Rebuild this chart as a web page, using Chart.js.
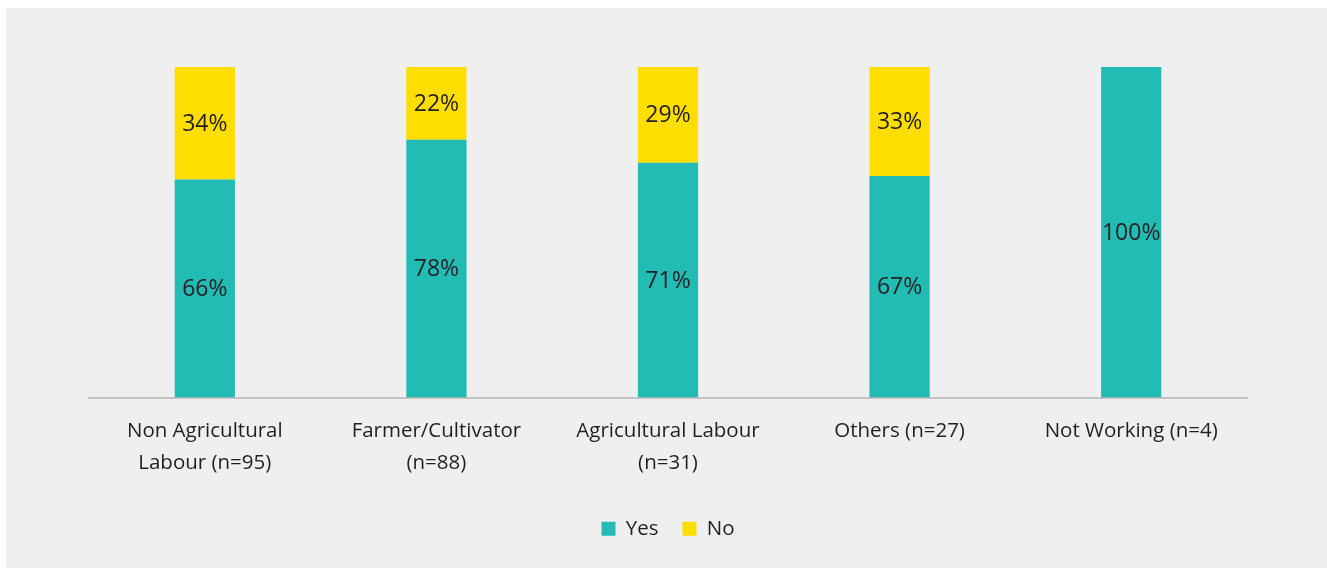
<!DOCTYPE html>
<html>
<head>
<meta charset="utf-8">
<script src="https://cdn.jsdelivr.net/npm/chart.js@4.4.1/dist/chart.umd.min.js"></script>
<style>
  html, body { margin: 0; padding: 0; background: #ffffff; }
  #wrap {
    position: absolute;
    left: 6px;
    top: 8px;
    width: 1321px;
    height: 560px;
    background: #eeefee;
  }
</style>
</head>
<body>
<div id="wrap"><canvas id="chart"></canvas></div>
<script>
// Data
const categories = [
  ["Non Agricultural", "Labour (n=95)"],
  ["Farmer/Cultivator", "(n=88)"],
  ["Agricultural Labour", "(n=31)"],
  "Others (n=27)",
  "Not Working (n=4)",
];
const yesValues = [66, 78, 71, 67, 100];
const noValues = [34, 22, 29, 33, 0];

const TEXT = "#231f20";
const FONT = "'Open Sans', sans-serif";

// Percent label in the middle of each segment
const segmentLabels = {
  id: "segmentLabels",
  afterDatasetsDraw(chart) {
    const ctx = chart.ctx;
    ctx.save();
    ctx.font = "23px " + FONT;
    ctx.fillStyle = TEXT;
    ctx.textAlign = "center";
    ctx.textBaseline = "middle";
    chart.data.datasets.forEach((ds, i) => {
      const meta = chart.getDatasetMeta(i);
      meta.data.forEach((bar, j) => {
        const v = ds.data[j];
        if (!v) return;
        const p = bar.getProps(["x", "y", "base"], true);
        ctx.fillText(v + "%", p.x, (p.y + p.base) / 2 + 1);
      });
    });
    ctx.restore();
  },
};

const canvas = document.getElementById("chart");
new Chart(canvas.getContext("2d"), {
  type: "bar",
  data: {
    labels: categories,
    datasets: [
      {
        label: "Yes",
        data: yesValues,
        backgroundColor: "#23bcb5",
        barPercentage: 1,
        categoryPercentage: 0.26,
      },
      {
        label: "No",
        data: noValues,
        backgroundColor: "#fedd00",
        barPercentage: 1,
        categoryPercentage: 0.26,
      },
    ],
  },
  options: {
    responsive: true,
    maintainAspectRatio: false,
    animation: false,
    layout: {
      padding: { left: 83, right: 80, top: 59, bottom: 19 },
    },
    scales: {
      x: {
        stacked: true,
        grid: { display: false },
        border: { display: true, color: "#c2c2c2", width: 2 },
        ticks: {
          color: TEXT,
          font: { family: FONT, size: 20.5, lineHeight: 1.56 },
          padding: 10,
          maxRotation: 0,
          autoSkip: false,
        },
        // extra room between tick labels and legend
        afterFit: function (scale) {
          scale.height += 5;
        },
      },
      y: {
        stacked: true,
        display: false,
        min: 0,
        max: 100,
      },
    },
    plugins: {
      legend: {
        position: "bottom",
        labels: {
          color: TEXT,
          font: { family: FONT, size: 20.5 },
          boxWidth: 14,
          boxHeight: 14,
          padding: 24,
        },
      },
      tooltip: { enabled: false },
    },
  },
  plugins: [segmentLabels],
});
</script>
</body>
</html>
